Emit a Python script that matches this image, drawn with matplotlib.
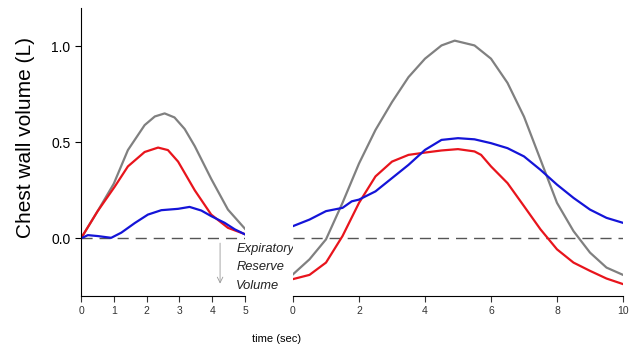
import matplotlib
matplotlib.use("Agg")
import matplotlib.pyplot as plt

plt.rcParams["font.family"] = ["Liberation Sans", "DejaVu Sans"]

# left panel (0-5 s)
t_gray_left = [0, 0.5, 1, 1.43, 1.94, 2.25, 2.55, 2.85, 3.16, 3.47, 3.97, 4.48, 5]
gray_left = [0, 0.14, 0.285, 0.46, 0.59, 0.635, 0.651, 0.63, 0.57, 0.48, 0.31, 0.15, 0.05]
t_red_left = [0, 0.5, 1.03, 1.43, 1.94, 2.35, 2.65, 2.96, 3.47, 3.97, 4.48, 5]
red_left = [0, 0.14, 0.27, 0.375, 0.45, 0.473, 0.46, 0.40, 0.25, 0.124, 0.055, 0.022]
t_blue_left = [0, 0.21, 0.52, 0.92, 1.23, 1.64, 2.04, 2.45, 2.96, 3.31, 3.67, 3.97, 4.38, 4.69, 5]
blue_left = [0, 0.017, 0.012, 0.003, 0.03, 0.08, 0.124, 0.147, 0.154, 0.164, 0.145, 0.116,
             0.081, 0.047, 0.021]

# right panel (0-10 s)
t_right = [0, 0.5, 1, 1.5, 2, 2.5, 3, 3.5, 4, 4.5, 4.9, 5.5, 6, 6.5, 7, 7.5, 8, 8.5, 9, 9.5, 10]
gray_right = [-0.187, -0.109, -0.005, 0.185, 0.39, 0.565, 0.71, 0.84, 0.936, 1.005, 1.03, 1.005,
              0.936, 0.81, 0.634, 0.41, 0.185, 0.038, -0.074, -0.152, -0.19]
t_red_right = [0, 0.5, 1, 1.5, 2, 2.5, 3, 3.5, 4, 4.5, 5, 5.5, 5.7, 6, 6.5, 7, 7.5, 8, 8.5, 9,
               9.5, 10]
red_right = [-0.212, -0.19, -0.126, 0.012, 0.185, 0.323, 0.40, 0.435, 0.447, 0.458, 0.465, 0.453,
             0.435, 0.375, 0.288, 0.168, 0.047, -0.057, -0.126, -0.169, -0.209, -0.238]
t_blue_right = [0, 0.5, 1, 1.5, 1.78, 2, 2.5, 3, 3.5, 4, 4.5, 5, 5.5, 6, 6.5, 7, 7.5, 8, 8.5, 9,
                9.5, 10]
blue_right = [0.064, 0.098, 0.142, 0.159, 0.193, 0.202, 0.245, 0.314, 0.383, 0.461, 0.513, 0.522,
              0.516, 0.496, 0.47, 0.427, 0.357, 0.28, 0.211, 0.15, 0.107, 0.081]

GRAY, RED, BLUE = "#808080", "#e8141c", "#1414d8"
LW = 1.6

fig = plt.figure(figsize=(6.35, 3.44), dpi=100)
ax1 = fig.add_axes([81 / 635, 48 / 344, 164 / 635, 288 / 344])
ax2 = fig.add_axes([293 / 635, 48 / 344, 330 / 635, 288 / 344], sharey=ax1)

for ax, xmax in ((ax1, 5), (ax2, 10)):
    ax.axhline(0, color="#555555", lw=1, dashes=(8, 5), zorder=1)
    ax.set_xlim(0, xmax)
    ax.spines["top"].set_visible(False)
    ax.spines["right"].set_visible(False)
    ax.tick_params(axis="x", labelsize=7.5, length=4, direction="out", colors="#333333")

ax1.plot(t_gray_left, gray_left, color=GRAY, lw=LW)
ax1.plot(t_red_left, red_left, color=RED, lw=LW)
ax1.plot(t_blue_left, blue_left, color=BLUE, lw=LW)

ax2.plot(t_right, gray_right, color=GRAY, lw=LW)
ax2.plot(t_red_right, red_right, color=RED, lw=LW)
ax2.plot(t_blue_right, blue_right, color=BLUE, lw=LW)

ax1.set_ylim(-0.3, 1.2)
ax1.set_yticks([0.0, 0.5, 1.0])
ax1.set_yticklabels(["0.0", "0.5", "1.0"])
ax1.tick_params(axis="y", labelsize=10, length=4)
ax1.set_xticks(range(0, 6))
ax2.set_xticks(range(0, 11, 2))
ax2.spines["left"].set_visible(False)
ax2.tick_params(axis="y", left=False, labelleft=False)

ax1.set_ylabel("Chest wall volume (L)", fontsize=15)
ax1.yaxis.set_label_coords(-0.28, 0.55)

ax1.annotate("", xy=(4.24, -0.25), xytext=(4.24, -0.01),
             arrowprops=dict(arrowstyle="->", color="#999999", lw=0.6))
for txt, yv in (("Expiratory", -0.057), ("Reserve", -0.15), ("Volume", -0.247)):
    ax1.text(4.73, yv, txt, fontsize=9.3, style="italic", va="center", ha="left",
             clip_on=False, color="#222222")

fig.text(277 / 635, 1 - 339 / 344, "time (sec)", fontsize=8, ha="center", va="center")

fig.savefig("out.png", dpi=100)
